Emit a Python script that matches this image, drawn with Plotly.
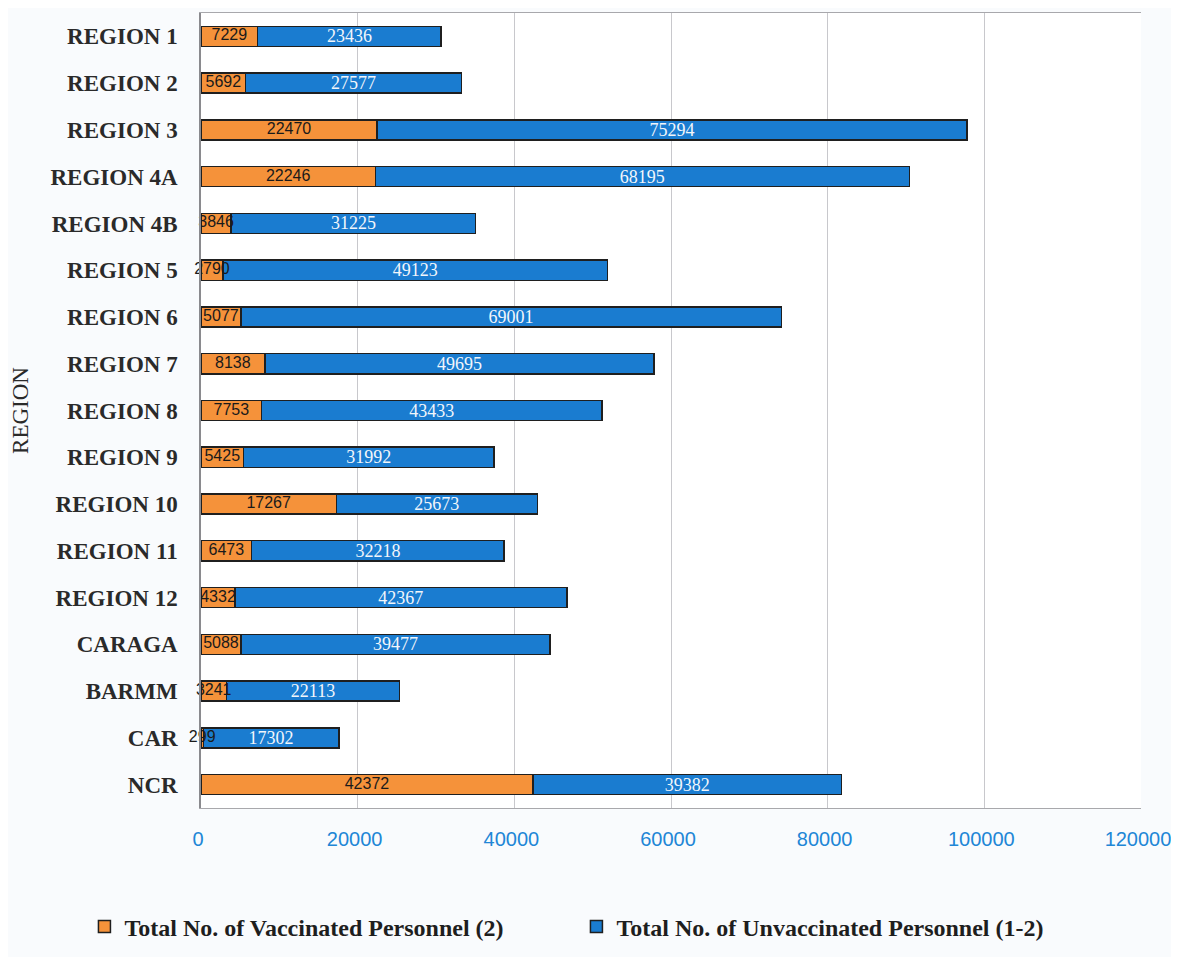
import plotly.graph_objects as go

regions = ["REGION 1", "REGION 2", "REGION 3", "REGION 4A", "REGION 4B", "REGION 5",
           "REGION 6", "REGION 7", "REGION 8", "REGION 9", "REGION 10", "REGION 11",
           "REGION 12", "CARAGA", "BARMM", "CAR", "NCR"]
vaccinated = [7229, 5692, 22470, 22246, 3846, 2790, 5077, 8138, 7753, 5425, 17267,
              6473, 4332, 5088, 3241, 299, 42372]
unvaccinated = [23436, 27577, 75294, 68195, 31225, 49123, 69001, 49695, 43433, 31992,
                25673, 32218, 42367, 39477, 22113, 17302, 39382]
x_ticks = [0, 20000, 40000, 60000, 80000, 100000, 120000]

ORANGE = "#F5923A"
BLUE = "#1A7CD0"
OUTLINE = "#1f1f1f"

fig = go.Figure()
fig.add_trace(go.Bar(
    y=regions, x=vaccinated, orientation="h",
    name="Total No. of Vaccinated Personnel (2)",
    marker=dict(color=ORANGE, line=dict(color=OUTLINE, width=1.5)),
))
fig.add_trace(go.Bar(
    y=regions, x=unvaccinated, orientation="h",
    name="Total No. of Unvaccinated Personnel (1-2)",
    marker=dict(color=BLUE, line=dict(color=OUTLINE, width=1.5)),
    text=unvaccinated, textposition="inside", insidetextanchor="middle",
    constraintext="none",
    textfont=dict(family="Liberation Serif, DejaVu Serif, serif", size=18, color="#f2f6fb"),
))
# labels of the vaccinated segments, centred on each orange segment
fig.add_trace(go.Scatter(
    y=regions, x=[v / 2 for v in vaccinated], mode="text",
    text=[str(v) for v in vaccinated], textposition="middle center",
    textfont=dict(family="Liberation Sans, Arial, sans-serif", size=16, color="#1a1a1a"),
    showlegend=False, hoverinfo="skip", cliponaxis=False,
))

fig.update_layout(
    width=1163, height=949,
    barmode="stack", bargap=0.57,
    paper_bgcolor="#f9fbfd", plot_bgcolor="#ffffff",
    margin=dict(l=193, r=30, t=5, b=149),
    showlegend=True,
    legend=dict(
        orientation="h", xref="paper", yref="paper",
        x=-0.124, xanchor="left", y=-0.178, yanchor="bottom",
        entrywidth=447, entrywidthmode="pixels",
        font=dict(family="Liberation Serif, DejaVu Serif, serif", size=24, color="#1e1e1e", weight="bold"),
        bgcolor="rgba(0,0,0,0)", traceorder="normal",
    ),
    xaxis=dict(
        range=[0, 120000.5], tickvals=x_ticks, ticktext=[str(v) for v in x_ticks],
        showgrid=True, gridcolor="#c8c8cc", gridwidth=1,
        zeroline=False, showline=True, linecolor="#a8a8ac", linewidth=1.2, mirror=True,
        ticks="", ticklabelstandoff=13, ticklabeloverflow="allow", ticklabelshift=-3,
        tickfont=dict(family="Liberation Sans, Arial, sans-serif", size=20, color="#2186d6"),
        automargin=False,
    ),
    yaxis=dict(
        categoryorder="array", categoryarray=regions,
        range=[len(regions) - 0.5, -0.5],
        showline=True, linecolor="#8a8a8e", linewidth=1.5, mirror=False,
        showgrid=False, ticks="", ticklabelstandoff=17,
        tickfont=dict(family="Liberation Serif, DejaVu Serif, serif", size=23, color="#2a2a2a", weight="bold"),
        title=dict(text="REGION", standoff=24,
                   font=dict(family="Liberation Serif, DejaVu Serif, serif", size=23, color="#2a2a2a")),
        automargin=False,
    ),
)

fig.write_html("out.html")
